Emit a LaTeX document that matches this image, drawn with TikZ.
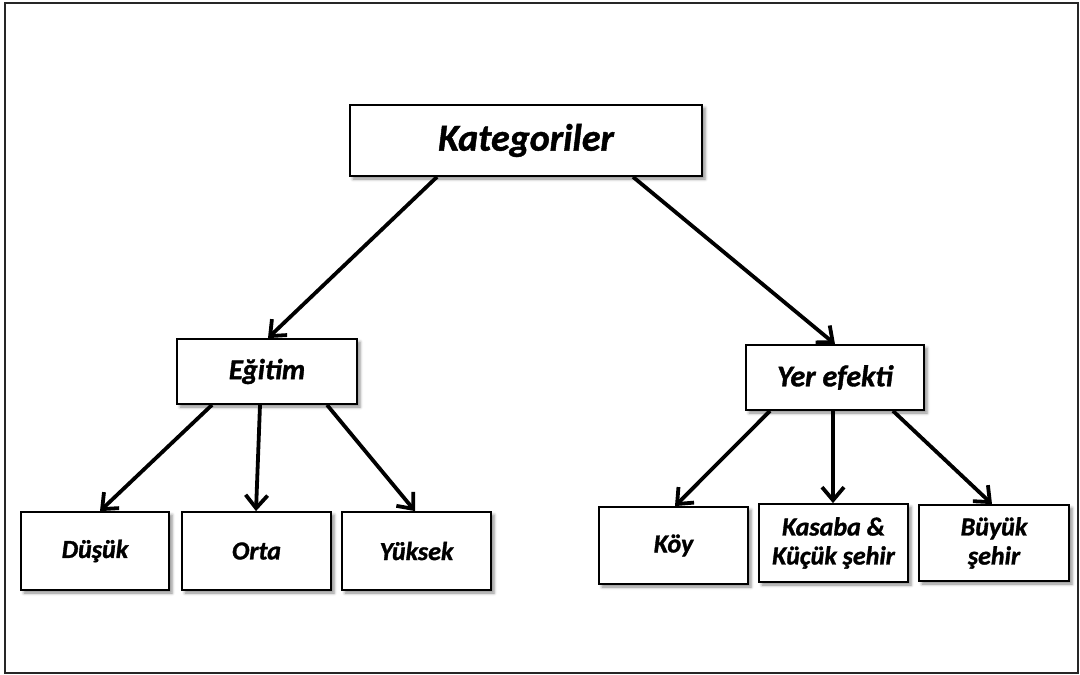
\documentclass[tikz,border=0pt]{standalone}
\usepackage{fontspec}
\setmainfont{Carlito}[BoldFont={Carlito Bold}, BoldItalicFont={Carlito Bold Italic}, ItalicFont={Carlito Italic}, BoldItalicFeatures={FakeBold=1.2}]
\usetikzlibrary{arrows.meta,shadows.blur}
\tikzset{
  box/.style={draw=black, line width=1.8pt, fill=white, inner sep=0pt, align=center,
    blur shadow={shadow xshift=3pt, shadow yshift=-3pt, shadow blur radius=3pt, shadow opacity=45}},
  arr/.style={line width=3.8pt, -{Straight Barb[length=13pt,width=22pt]}}
}
\begin{document}
\begin{tikzpicture}[x=1pt,y=-1pt]
\useasboundingbox (0,0) rectangle (1080,675);
\draw[line width=2pt, draw=black!85] (5,3) rectangle (1078,673);
\node[box, minimum width=352pt, minimum height=71pt, font=\fontsize{38}{45}\selectfont\bfseries\itshape] (kat) at (526,140.5) {Kategoriler};
\node[box, minimum width=180pt, minimum height=65pt, font=\fontsize{29}{34}\selectfont\bfseries\itshape] (egi) at (267,371.5) {Eğitim};
\node[box, minimum width=178pt, minimum height=65pt, font=\fontsize{30}{36}\selectfont\bfseries\itshape] (yer) at (835,377.5) {Yer efekti};
\node[box, minimum width=148pt, minimum height=78pt, font=\fontsize{26}{31}\selectfont\bfseries\itshape] (dus) at (95,551) {Düşük};
\node[box, minimum width=149pt, minimum height=78pt, font=\fontsize{26}{31}\selectfont\bfseries\itshape] (ort) at (256.5,551) {Orta};
\node[box, minimum width=149pt, minimum height=78pt, font=\fontsize{26}{31}\selectfont\bfseries\itshape] (yuk) at (416.5,551) {Yüksek};
\node[box, minimum width=149pt, minimum height=77pt, font=\fontsize{26}{31}\selectfont\bfseries\itshape] (koy) at (673.5,545.5) {Köy};
\node[box, minimum width=149pt, minimum height=78pt, font=\fontsize{26}{29}\selectfont\bfseries\itshape] (kas) at (833.5,543) {Kasaba \&\\Küçük şehir};
\node[box, minimum width=150pt, minimum height=76pt, font=\fontsize{26}{29}\selectfont\bfseries\itshape] (buy) at (994,543) {Büyük\\şehir};
\draw[arr] ([xshift=-89pt]kat.south) -- ([xshift=1pt]egi.north);
\draw[arr] ([xshift=107pt]kat.south) -- (yer.north);
\draw[arr] ([xshift=-55pt]egi.south) -- ([xshift=5pt]dus.north);
\draw[arr] ([xshift=-7pt]egi.south) -- ([xshift=-0.5pt]ort.north);
\draw[arr] ([xshift=60pt]egi.south) -- ([xshift=-1.5pt]yuk.north);
\draw[arr] ([xshift=-65pt]yer.south) -- ([xshift=1.5pt]koy.north);
\draw[arr] ([xshift=-2pt]yer.south) -- ([xshift=-0.5pt]kas.north);
\draw[arr] ([xshift=58pt]yer.south) -- ([xshift=-2pt]buy.north);
\end{tikzpicture}
\end{document}
